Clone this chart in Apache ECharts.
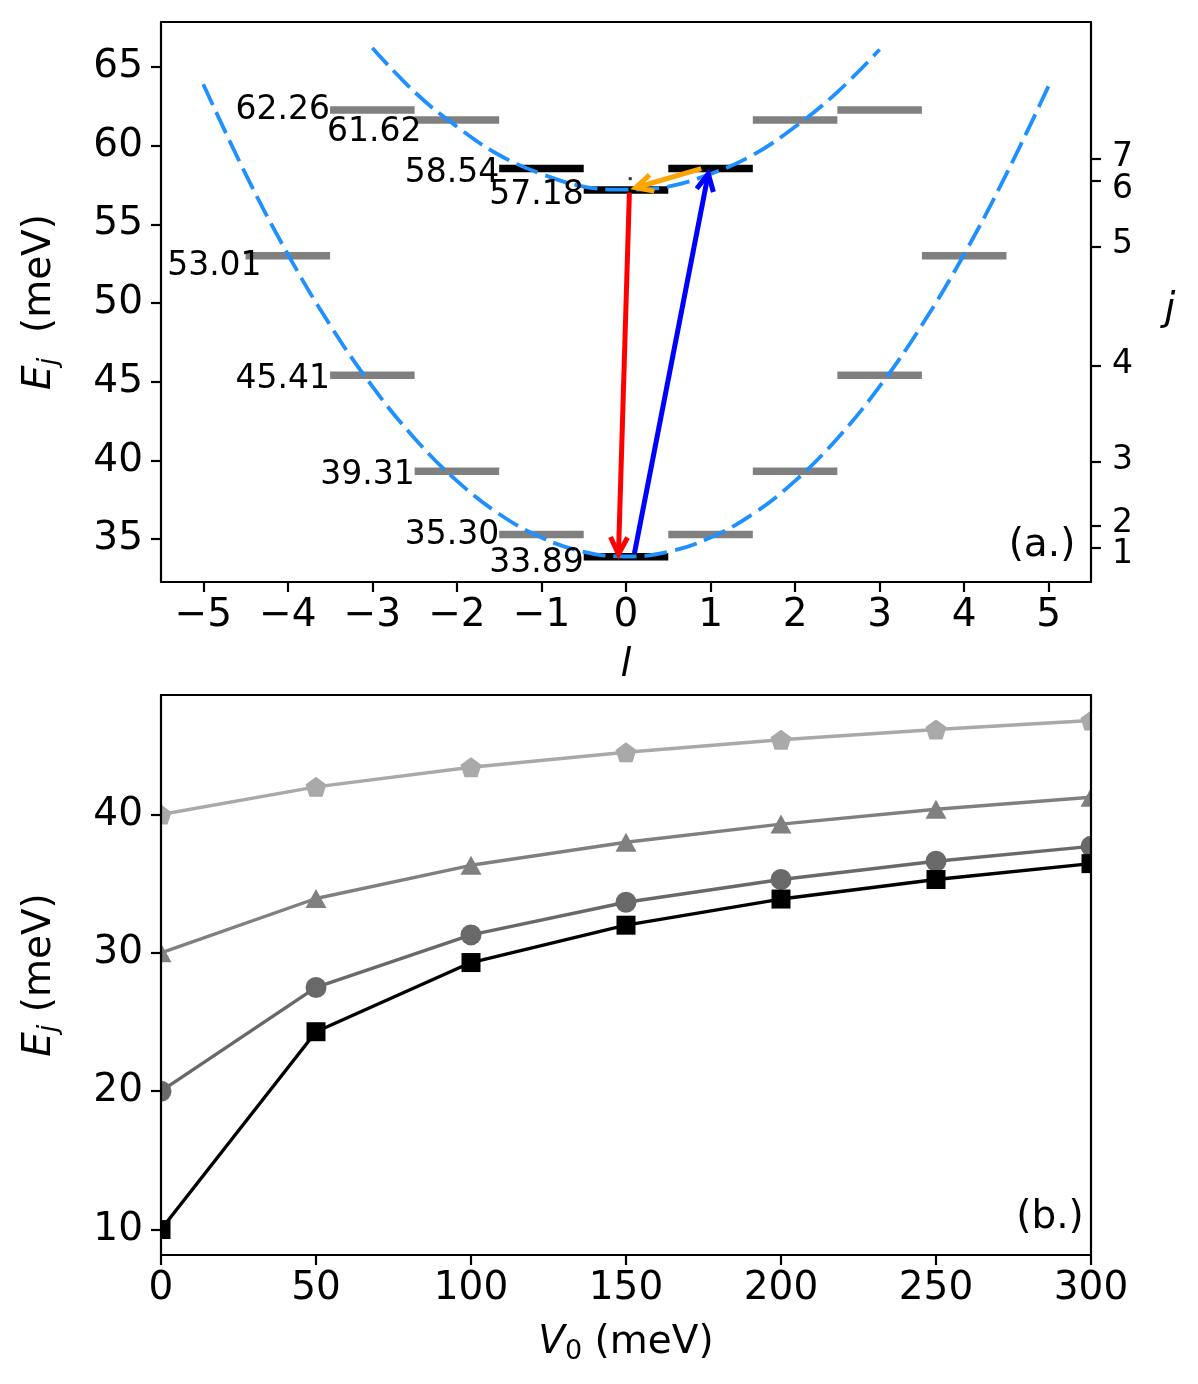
<!DOCTYPE html>
<html><head><meta charset="utf-8">
<script src="https://cdn.jsdelivr.net/npm/echarts@6/dist/echarts.min.js"></script>
<style>html,body{margin:0;padding:0;background:#fff}#c{width:1198px;height:1384px}</style>
</head><body><div id="c"></div>
<script>
// ---------- Panel (a) data ----------
const xTicksA = [-5, -4, -3, -2, -1, 0, 1, 2, 3, 4, 5];
const yTicksA = [35, 40, 45, 50, 55, 60, 65];
const jLevelsE = [33.89, 35.30, 39.31, 45.41, 53.01, 57.18, 58.54];
const jLabels = ['1', '2', '3', '4', '5', '6', '7'];

const blackL = [0, 0, -1, 1];
const blackE = [33.89, 57.18, 58.54, 58.54];
const grayL = [-1, 1, -2, 2, -3, 3, -4, 4, -2, 2, -3, 3];
const grayE = [35.30, 35.30, 39.31, 39.31, 45.41, 45.41, 53.01, 53.01, 61.62, 61.62, 62.26, 62.26];

const labelText = ['62.26', '61.62', '58.54', '57.18', '53.01', '45.41', '39.31', '35.30', '33.89'];
const labelX = [-3.5, -2.42, -1.5, -0.5, -4.31, -3.5, -2.5, -1.5, -0.5];
const labelE = [62.26, 61.62, 58.54, 57.18, 53.01, 45.41, 39.31, 35.30, 33.89];

const lowerCurveL = [-5, -4.5, -4, -3.5, -3, -2.5, -2, -1.5, -1, -0.5, 0, 0.5, 1, 1.5, 2, 2.5, 3, 3.5, 4, 4.5, 5];
const lowerCurveE = [63.9, 58.2, 53.1, 48.6, 44.7, 41.4, 38.7, 36.6, 35.1, 34.2, 33.9, 34.2, 35.1, 36.6, 38.7, 41.4, 44.7, 48.6, 53.1, 58.2, 63.8];
const upperCurveL = [-3, -2.5, -2, -1.5, -1, -0.5, 0, 0.5, 1, 1.5, 2, 2.5, 3];
const upperCurveE = [66.2, 63.4, 61.2, 59.4, 58.2, 57.4, 57.2, 57.4, 58.2, 59.4, 61.2, 63.4, 66.1];

const arrowFromL = [0.04, 0.10, 0.89];
const arrowFromE = [57.0, 34.1, 58.54];
const arrowToL = [-0.09, 0.98, 0.08];
const arrowToE = [33.85, 58.4, 57.27];

const dotL = [0.05];
const dotE = [57.9];

// ---------- Panel (b) data ----------
const v0 = [0, 50, 100, 150, 200, 250, 300];
const ej1 = [10.0, 24.3, 29.3, 32.0, 33.89, 35.30, 36.45];
const ej2 = [20.0, 27.5, 31.3, 33.66, 35.30, 36.62, 37.7];
const ej3 = [30.0, 33.93, 36.33, 38.0, 39.31, 40.38, 41.25];
const ej4 = [40.0, 42.0, 43.42, 44.5, 45.41, 46.15, 46.8];
const yTicksB = [10, 20, 30, 40];

// ---------- styling / layout ----------
const FONT = 'DejaVu Sans';
const TICK_FS = 39, ANN_FS = 33, LABEL_FS = 39, SUB_FS = 27;
const LABEL_NUDGE_PX = [0, 12, 5, 5, 11, 4, 4, 1, 7];
const J_NUDGE_PX = [7, -2, -2, -2, -2, 9, -2];
const arrowColors = ['#ff0000', '#0000ff', '#ffa500'];
const AXW = 2.2;

const zip = (a, b) => a.map((v, i) => [v, b[i]]);
const minusFmt = v => (v < 0 ? '\u2212' + Math.abs(v) : String(v));

const ctx = document.createElement('canvas').getContext('2d');
function tw(t, s, it) { ctx.font = (it ? 'italic ' : '') + s + 'px "' + FONT + '"'; return ctx.measureText(t).width; }
function richLabel(parts, cx, cy, rot) {
  const w = parts.map(p => tw(p.t, p.s, p.i));
  const total = w.reduce((a, b) => a + b, 0);
  let x = -total / 2;
  const children = parts.map((p, k) => {
    const el = { type: 'text', x: x, y: p.dy || 0, z: 20,
      style: { text: p.t, fontFamily: FONT, fontSize: p.s, fontStyle: p.i ? 'italic' : 'normal', fill: '#000', align: 'left', verticalAlign: 'middle' } };
    x += w[k];
    return el;
  });
  return { type: 'group', x: cx, y: cy, rotation: rot || 0, z: 20, children };
}

function axisBase(o) {
  const a = {
    type: 'value', z: 10,
    axisLine: { show: true, onZero: false, lineStyle: { color: '#000', width: AXW } },
    axisTick: { show: true, inside: false, length: 10, lineStyle: { color: '#000', width: AXW } },
    axisLabel: { show: true, color: '#000', fontFamily: FONT, fontSize: TICK_FS, margin: 14 },
    splitLine: { show: false }
  };
  for (const k in o) {
    if (a[k] && typeof a[k] === 'object' && typeof o[k] === 'object' && !Array.isArray(o[k])) a[k] = Object.assign({}, a[k], o[k]);
    else a[k] = o[k];
  }
  return a;
}
function frameAxis(o) {
  return Object.assign({
    type: 'value', z: 10, min: 0, max: 1,
    axisLine: { show: true, onZero: false, lineStyle: { color: '#000', width: AXW } },
    axisTick: { show: false }, axisLabel: { show: false }, splitLine: { show: false }
  }, o);
}

const YA_MIN = 32.28, YA_MAX = 67.85, YJ_MIN = 31.71, YJ_MAX = 67.25, YB_MIN = 8.16, YB_MAX = 48.64;

function levelSeries(L, E, color) {
  return {
    type: 'custom', xAxisIndex: 0, yAxisIndex: 0, z: 2,
    data: zip(L, E),
    encode: { x: 0, y: 1 },
    renderItem: function (params, api) {
      const l = api.value(0), e = api.value(1);
      const p1 = api.coord([l - 0.5, e]), p2 = api.coord([l + 0.5, e]);
      return { type: 'line', shape: { x1: p1[0], y1: p1[1], x2: p2[0], y2: p2[1] }, style: { stroke: color, lineWidth: 7.5, lineCap: 'butt' } };
    }
  };
}
function curveSeries(L, E) {
  return {
    type: 'line', xAxisIndex: 0, yAxisIndex: 0, z: 3,
    data: zip(L, E), showSymbol: false, symbol: 'none', smooth: 0.4,
    lineStyle: { color: '#1e90ff', width: 3.8, type: [23, 8], cap: 'butt' }
  };
}
function markerSeries(Y, color, symbol, size, z) {
  return {
    type: 'line', xAxisIndex: 2, yAxisIndex: 2, z: z,
    data: zip(v0, Y), symbol: symbol, symbolSize: size, showSymbol: true,
    clip: false,
    lineStyle: { color: color, width: 3.4 },
    itemStyle: { color: color, borderWidth: 0 }
  };
}

const PENTAGON = 'path://M0,-1 L0.951,-0.309 L0.588,0.809 L-0.588,0.809 L-0.951,-0.309 Z';

const option = {
  animation: false,
  backgroundColor: '#ffffff',
  grid: [
    { left: 161, top: 22, width: 930, height: 560 },
    { left: 161, top: 695, width: 930, height: 560 }
  ],
  xAxis: [
    axisBase({ gridIndex: 0, position: 'bottom', min: -5.5, max: 5.5,
      axisTick: { customValues: xTicksA },
      axisLabel: { customValues: xTicksA, formatter: minusFmt, margin: 14 } }),
    frameAxis({ gridIndex: 0, position: 'top', min: -5.5, max: 5.5 }),
    axisBase({ gridIndex: 1, position: 'bottom', min: 0, max: 300, interval: 50,
      axisLabel: { margin: 14 } }),
    frameAxis({ gridIndex: 1, position: 'top', min: 0, max: 300 })
  ],
  yAxis: [
    axisBase({ gridIndex: 0, position: 'left', min: YA_MIN, max: YA_MAX,
      axisTick: { customValues: yTicksA },
      axisLabel: { customValues: yTicksA, margin: 18 } }),
    axisBase({ gridIndex: 0, position: 'right', min: YJ_MIN, max: YJ_MAX,
      axisTick: { customValues: jLevelsE },
      axisLabel: { show: false } }),
    axisBase({ gridIndex: 1, position: 'left', min: YB_MIN, max: YB_MAX,
      axisTick: { customValues: yTicksB },
      axisLabel: { customValues: yTicksB, margin: 18 } }),
    frameAxis({ gridIndex: 1, position: 'right', min: YB_MIN, max: YB_MAX })
  ],
  series: [
    levelSeries(grayL, grayE, '#808080'),
    levelSeries(blackL, blackE, '#000000'),
    curveSeries(lowerCurveL, lowerCurveE),
    curveSeries(upperCurveL, upperCurveE),
    {
      type: 'custom', xAxisIndex: 0, yAxisIndex: 0, z: 4,
      data: arrowFromL.map((_, i) => [arrowFromL[i], arrowFromE[i], arrowToL[i], arrowToE[i]]),
      encode: { x: [0, 2], y: [1, 3] },
      renderItem: function (params, api) {
        const i = params.dataIndex, c = arrowColors[i];
        const p0 = api.coord([api.value(0), api.value(1)]);
        const p1 = api.coord([api.value(2), api.value(3)]);
        const dx = p1[0] - p0[0], dy = p1[1] - p0[1];
        const len = Math.hypot(dx, dy), ux = dx / len, uy = dy / len;
        const tip = [p1[0] - ux * 3, p1[1] - uy * 3];
        const hl = 17, hw = 8.5;
        const bx = tip[0] - ux * hl, by = tip[1] - uy * hl;
        const w1 = [bx - uy * hw, by + ux * hw], w2 = [bx + uy * hw, by - ux * hw];
        return { type: 'group', children: [
          { type: 'line', shape: { x1: p0[0], y1: p0[1], x2: tip[0], y2: tip[1] }, style: { stroke: c, lineWidth: 5, lineCap: 'butt' } },
          { type: 'polyline', shape: { points: [w1, tip, w2] }, style: { stroke: c, lineWidth: 5, fill: null, lineJoin: 'miter', lineCap: 'butt' } }
        ] };
      }
    },
    {
      type: 'scatter', xAxisIndex: 0, yAxisIndex: 0, z: 4,
      data: zip(dotL, dotE), symbol: 'rect', symbolSize: 3, itemStyle: { color: '#000' }
    },
    {
      type: 'custom', xAxisIndex: 0, yAxisIndex: 0, z: 5,
      data: zip(labelX, labelE),
      encode: { x: 0, y: 1 },
      renderItem: function (params, api) {
        const i = params.dataIndex;
        const p = api.coord([api.value(0), api.value(1)]);
        return { type: 'text', x: p[0], y: p[1] + LABEL_NUDGE_PX[i],
          style: { text: labelText[i], fontFamily: FONT, fontSize: ANN_FS, fill: '#000', align: 'right', verticalAlign: 'middle' } };
      }
    },
    {
      // right-hand j tick labels, placed on the j axis scale
      type: 'custom', xAxisIndex: 0, yAxisIndex: 1, z: 12, clip: false,
      data: jLevelsE.map(e => [5.5, e]),
      encode: { x: 0, y: 1 },
      renderItem: function (params, api) {
        const i = params.dataIndex;
        const p = api.coord([api.value(0), api.value(1)]);
        return { type: 'text', x: p[0] + 21, y: p[1] + J_NUDGE_PX[i],
          style: { text: jLabels[i], fontFamily: FONT, fontSize: ANN_FS, fill: '#000', align: 'left', verticalAlign: 'middle' } };
      }
    },
    markerSeries(ej4, '#a9a9a9', PENTAGON, [21, 20], 3),
    markerSeries(ej3, '#808080', 'triangle', [21, 19], 4),
    markerSeries(ej2, '#696969', 'circle', 21, 5),
    markerSeries(ej1, '#000000', 'rect', 19, 6)
  ],
  graphic: { elements: [
    { type: 'rect', z: 8, shape: { x: 0, y: 692, width: 160, height: 566 }, style: { fill: '#ffffff' } },
    { type: 'rect', z: 8, shape: { x: 1092, y: 692, width: 106, height: 566 }, style: { fill: '#ffffff' } },
    richLabel([{ t: 'E', s: LABEL_FS, i: true }, { t: 'j', s: SUB_FS, i: true, dy: 9 }, { t: '  (meV)', s: LABEL_FS }], 40, 302, Math.PI / 2),
    richLabel([{ t: 'l', s: LABEL_FS, i: true }], 626, 666, 0),
    richLabel([{ t: 'j', s: LABEL_FS, i: true }], 1170, 310, 0),
    richLabel([{ t: '(a.)', s: LABEL_FS }], 1042, 546, 0),
    richLabel([{ t: 'E', s: LABEL_FS, i: true }, { t: 'j', s: SUB_FS, i: true, dy: 9 }, { t: ' (meV)', s: LABEL_FS }], 40, 975, Math.PI / 2),
    richLabel([{ t: 'V', s: LABEL_FS, i: true }, { t: '0', s: SUB_FS, dy: 9 }, { t: ' (meV)', s: LABEL_FS }], 626, 1343, 0),
    richLabel([{ t: '(b.)', s: LABEL_FS }], 1050, 1218, 0)
  ] }
};

const chart = echarts.init(document.getElementById('c'), null, { renderer: 'canvas' });
chart.setOption(option);
</script>
</body></html>
